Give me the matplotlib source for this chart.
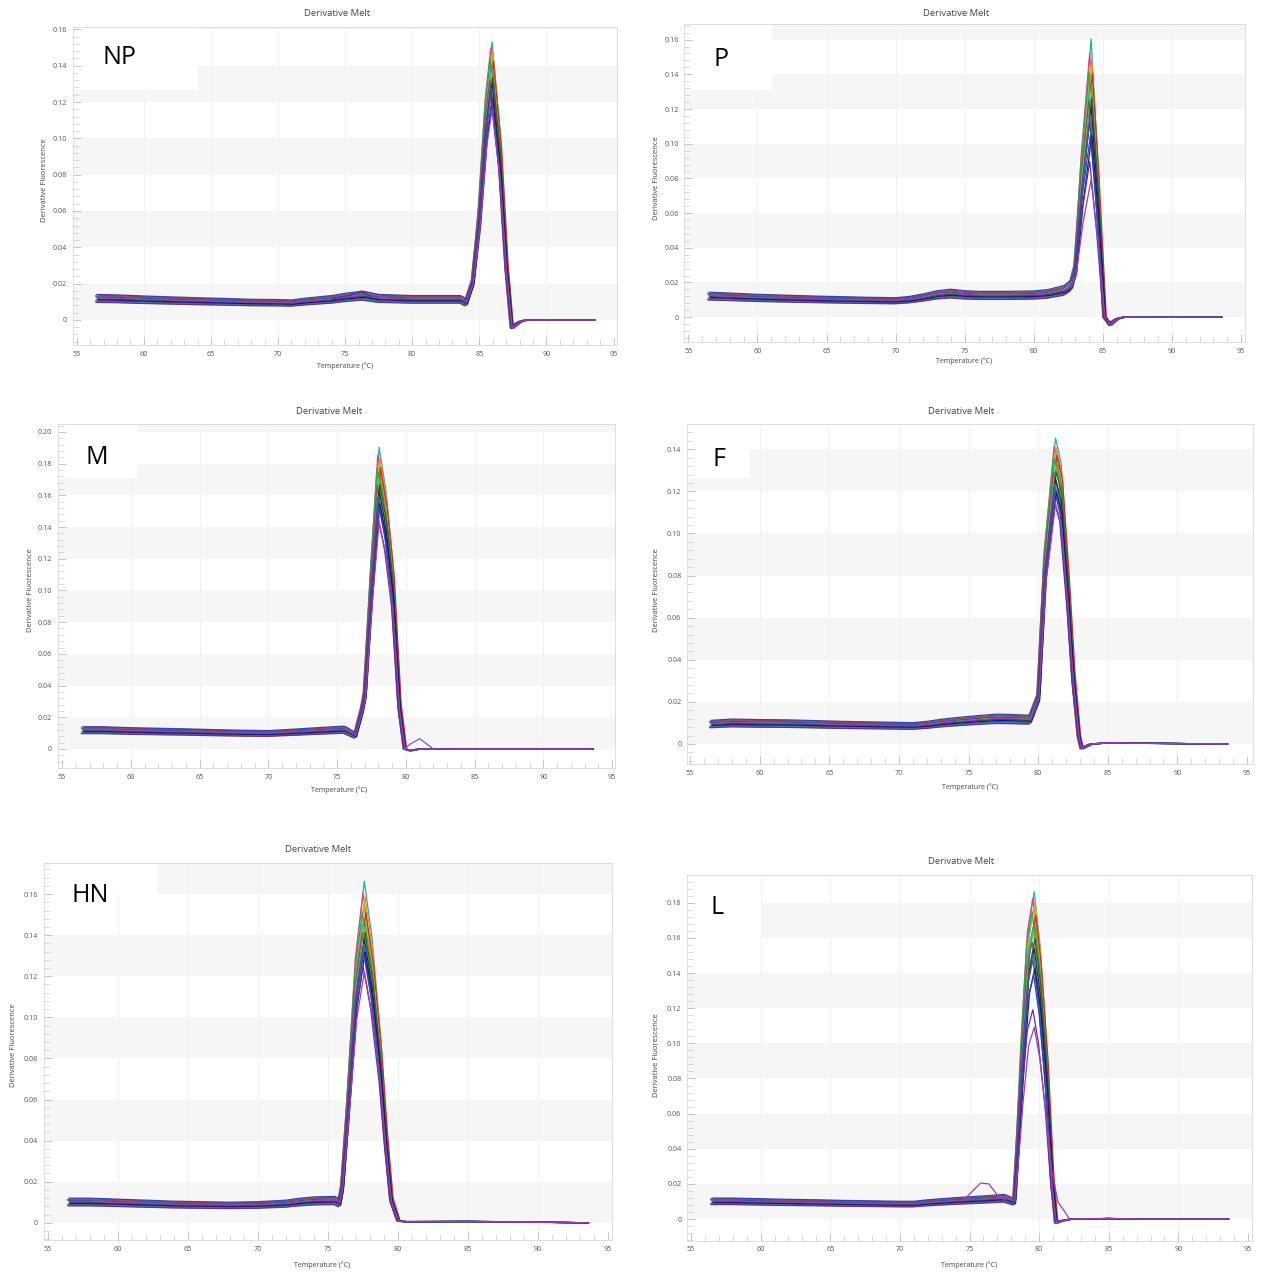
import numpy as np
import matplotlib
matplotlib.use("Agg")
import matplotlib.pyplot as plt
from matplotlib.patches import Rectangle
from matplotlib.ticker import MultipleLocator, FuncFormatter

W, H = 1264, 1274

# ---- NP ----
temp_NP = [56.5, 58, 60, 62, 64, 66, 68, 70, 71, 72, 74, 75, 76.3, 77.5, 80, 83.6,
           84.0, 84.5, 85.0, 85.5, 85.9, 86.5, 87.0, 87.4, 88.0, 88.5, 93.5]
bg_NP = [0.0115, 0.0113, 0.0108, 0.0104, 0.0100, 0.0097, 0.0093, 0.0092, 0.0090, 0.0098,
         0.0110, 0.0120, 0.0130, 0.0115, 0.0110, 0.0110,
         0.0092, 0.009, 0.007, 0.005, 0.003, 0.001, 0.0, -0.004, -0.001, 0.0, 0.0]
shape_NP = [0] * 16 + [0, 0.09, 0.38, 0.80, 1.0, 0.68, 0.22, 0, 0, 0, 0]
peaks_NP = [0.150, 0.147, 0.145, 0.143, 0.141, 0.139, 0.137, 0.135, 0.133,
            0.131, 0.129, 0.127, 0.125, 0.122, 0.119, 0.116, 0.126, 0.113]

# ---- P ----
temp_P = [56.5, 58, 60, 62, 64, 66, 68, 70, 71, 72, 73, 74, 75, 76, 78, 80, 81,
          82.2, 82.7, 83.0, 83.5, 84.1, 84.6, 85.1, 85.5, 86.0, 86.5, 93.5]
bg_P = [0.0118, 0.0114, 0.0108, 0.0104, 0.0100, 0.0097, 0.0094, 0.0092, 0.0098, 0.0110,
        0.0125, 0.0132, 0.0125, 0.0122, 0.0122, 0.0124, 0.0130,
        0.0150, 0.016, 0.016, 0.012, 0.008, 0.004, 0.0, -0.004, -0.001, 0.0, 0.0]
shape_P = [0] * 17 + [0, 0.02, 0.10, 0.58, 1.0, 0.55, 0.0, 0, 0, 0, 0]
peaks_P = [0.152, 0.145, 0.140, 0.137, 0.134, 0.131, 0.128, 0.125, 0.122,
           0.119, 0.116, 0.113, 0.110, 0.104, 0.097, 0.095, 0.083, 0.071]

# ---- M ----
temp_M = [56.5, 58, 60, 62, 64, 66, 68, 70, 72, 74, 75.5, 76.3, 76.8, 77.0, 77.5,
          78.0, 78.5, 79.0, 79.5, 79.9, 80.3, 81, 82, 93.5]
bg_M = [0.0115, 0.0115, 0.0110, 0.0107, 0.0104, 0.0100, 0.0097, 0.0095, 0.0103, 0.0112,
        0.0118, 0.0082, 0.012, 0.012, 0.010, 0.008, 0.006, 0.004, 0.002, 0.0, -0.001,
        0.0, 0.0, 0.0]
shape_M = [0] * 11 + [0, 0.08, 0.14, 0.60, 1.0, 0.86, 0.62, 0.16, 0.0, 0, 0, 0, 0]
peaks_M = [0.182, 0.178, 0.175, 0.172, 0.170, 0.168, 0.166, 0.164, 0.162,
           0.160, 0.157, 0.155, 0.152, 0.150, 0.147, 0.145, 0.140, 0.135]

# ---- F ----
temp_F = [56.5, 58, 60, 62, 64, 66, 68, 70, 71, 72, 73, 74, 75, 76, 77, 78, 79.4,
          80.0, 80.5, 81.2, 81.6, 82.1, 82.5, 82.9, 83.1, 83.8, 85, 93.5]
bg_F = [0.0092, 0.0097, 0.0095, 0.0094, 0.0091, 0.0088, 0.0086, 0.0084, 0.0083, 0.0088,
        0.0096, 0.0102, 0.0107, 0.0112, 0.0116, 0.0115, 0.0112,
        0.012, 0.009, 0.006, 0.004, 0.002, 0.001, 0.0, -0.002, 0.0, 0.0005, 0.0]
shape_F = [0] * 16 + [0, 0.08, 0.62, 1.0, 0.93, 0.58, 0.25, 0.03, 0, 0, 0, 0]
peaks_F = [0.139, 0.136, 0.134, 0.132, 0.131, 0.130, 0.129, 0.128, 0.126,
           0.124, 0.122, 0.120, 0.118, 0.116, 0.114, 0.112, 0.110, 0.108]

# ---- HN ----
temp_HN = [56.5, 58, 60, 62, 64, 66, 68, 70, 72, 73, 74, 75.5, 75.8, 76.0, 76.4, 77.0,
           77.55, 78.1, 78.7, 79.1, 79.5, 80.0, 80.5, 81, 85, 93.5]
bg_HN = [0.0098, 0.0098, 0.0094, 0.0090, 0.0086, 0.0084, 0.0082, 0.0084, 0.0090, 0.0098,
         0.0103, 0.0105, 0.0092, 0.010, 0.010, 0.008, 0.006, 0.004, 0.003, 0.003, 0.003,
         0.001, 0.0005, 0.0005, 0.0006, 0.0]
shape_HN = [0] * 12 + [0, 0.05, 0.32, 0.78, 1.0, 0.84, 0.55, 0.28, 0.06, 0, 0, 0, 0, 0]
peaks_HN = [0.160, 0.155, 0.152, 0.149, 0.146, 0.144, 0.142, 0.140, 0.138,
            0.136, 0.134, 0.132, 0.130, 0.128, 0.126, 0.124, 0.120, 0.116]

# ---- L ----
temp_L = [56.5, 58, 60, 62, 64, 66, 68, 70, 71, 72, 74, 76, 77.5, 78.2, 78.5, 78.8,
          79.2, 79.6, 80.0, 80.5, 80.9, 81.2, 81.6, 82.3, 85, 87, 93.5]
bg_L = [0.0098, 0.0098, 0.0095, 0.0092, 0.0090, 0.0087, 0.0085, 0.0083, 0.0083, 0.0090,
        0.0100, 0.0108, 0.0115, 0.0095, 0.010, 0.009, 0.007, 0.005, 0.003, 0.002, 0.001,
        -0.002, -0.001, 0.0, 0.0003, 0.0, 0.0]
shape_L = [0] * 13 + [0, 0.25, 0.55, 0.88, 1.0, 0.85, 0.52, 0.15, 0, 0, 0, 0, 0, 0]
peaks_L = [0.181, 0.178, 0.175, 0.172, 0.170, 0.167, 0.164, 0.161, 0.158,
           0.155, 0.152, 0.149, 0.146, 0.142, 0.138, 0.133, 0.115, 0.104]

# per-trace baseline level and small temperature offset (shared by all panels)
levels = [1.05, 0.92, 1.12, 0.98, 0.86, 1.18, 1.0, 0.95, 1.08,
          0.9, 1.15, 1.02, 0.88, 1.1, 0.96, 1.22, 0.84, 1.04]
shifts = [0.05, -0.05, 0.1, 0.0, -0.1, 0.15, 0.05, -0.05, 0.0,
          0.1, -0.1, 0.05, 0.0, -0.05, 0.1, 0.0, -0.05, 0.05]

colors = ["#1fb59a", "#e0409a", "#e8902a", "#c9b21c", "#2fa84f", "#d62828",
          "#5a8f29", "#18a8c8", "#7ac943", "#0b6e3a", "#8c564b", "#2b2b2b",
          "#3a7bd5", "#4b4b9b", "#1a1a6e", "#2846b8", "#6a2c91", "#9b3fb5"]

# odd single curves
bump_NP_t = [74.0, 75.3, 76.2, 77.0]
bump_NP_v = [0.0115, 0.0135, 0.0158, 0.0125]
tail_M_t = [79.9, 80.3, 81.0, 82.0]
tail_M_v = [0.0, 0.003, 0.0065, 0.0]
bump_L_t = [74.6, 75.8, 76.4, 77.1, 77.6]
bump_L_v = [0.011, 0.0205, 0.020, 0.0125, 0.011]
tail_L_t = [80.5, 80.9, 81.35, 82.2]
tail_L_v = [0.06, 0.028, 0.0098, 0.0]

panels = [
    # axes px box (l, t, r, b), label box px, label / title / xlabel / ylabel centres in px
    dict(name="NP", t=temp_NP, bg=bg_NP, sh=shape_NP, pk=peaks_NP, ytop=0.16,
         box=(72.7, 27, 617, 345), xlim=(54.70, 95.26), ylim=(-0.0138, 0.1613),
         lbox=(72.7, 27, 198, 90), lpos=(119, 58), tpos=(337, 14), xpos=(345, 366), ypos=(45, 180),
         extra=[(bump_NP_t, bump_NP_v, "#3b3bb0")]),
    dict(name="P", t=temp_P, bg=bg_P, sh=shape_P, pk=peaks_P, ytop=0.16,
         box=(684.4, 24, 1245, 342), xlim=(54.71, 95.29), ylim=(-0.0143, 0.169),
         lbox=(684.4, 24, 772, 90), lpos=(721, 60), tpos=(956, 13), xpos=(964, 361), ypos=(656, 178),
         extra=[]),
    dict(name="M", t=temp_M, bg=bg_M, sh=shape_M, pk=peaks_M, ytop=0.20,
         box=(57.5, 424, 615, 768), xlim=(54.67, 95.2), ylim=(-0.012, 0.205),
         lbox=(57.5, 424, 137, 478), lpos=(97, 457), tpos=(329, 411), xpos=(339, 790), ypos=(30, 590),
         extra=[(tail_M_t, tail_M_v, "#6a5acd")]),
    dict(name="F", t=temp_F, bg=bg_F, sh=shape_F, pk=peaks_F, ytop=0.14,
         box=(687, 424, 1253, 764), xlim=(54.78, 95.43), ylim=(-0.0095, 0.152),
         lbox=(687, 424, 750, 478), lpos=(719, 460), tpos=(961, 412), xpos=(970, 787), ypos=(657, 590),
         extra=[]),
    dict(name="HN", t=temp_HN, bg=bg_HN, sh=shape_HN, pk=peaks_HN, ytop=0.16,
         box=(43.6, 863.3, 611.6, 1240), xlim=(54.69, 95.26), ylim=(-0.0084, 0.175),
         lbox=(43.6, 863.3, 156.6, 894), lpos=(90, 896), tpos=(318, 850), xpos=(322, 1265), ypos=(14, 1045),
         extra=[]),
    dict(name="L", t=temp_L, bg=bg_L, sh=shape_L, pk=peaks_L, ytop=0.18,
         box=(687, 875, 1252, 1240.7), xlim=(54.71, 95.29), ylim=(-0.0123, 0.1958),
         lbox=(687, 875, 761, 938), lpos=(717, 907), tpos=(961, 862), xpos=(969, 1265), ypos=(657, 1055),
         extra=[(bump_L_t, bump_L_v, "#9b3fb5"), (tail_L_t, tail_L_v, "#9b3fb5")]),
]

plt.rcParams["font.family"] = ["Open Sans", "DejaVu Sans"]
fig = plt.figure(figsize=(W / 100, H / 100), dpi=100)
fig.patch.set_facecolor("white")


def fx(x):
    return x / W


def fy(y):
    return 1 - y / H


tickfmt = FuncFormatter(lambda v, p: "0" if abs(v) < 1e-9 else f"{v:.2f}")

for p in panels:
    l, t, r, b = p["box"]
    ax = fig.add_axes([fx(l), fy(b), (r - l) / W, (b - t) / H])
    ax.set_xlim(*p["xlim"])
    ax.set_ylim(*p["ylim"])

    # alternating grey bands
    for k in range(0, 6):
        lo = 0.04 * k
        ax.axhspan(lo, lo + 0.02, color="#f6f6f6", lw=0, zorder=0)
    for xv in range(60, 95, 5):
        ax.axvline(xv, color="#f1f1f1", lw=0.7, zorder=0.5)

    # white box behind the gene label
    bl, bt, br, bb = p["lbox"]
    ax.add_patch(Rectangle((fx(bl), fy(bb)), (br - bl) / W, (bb - bt) / H,
                           transform=fig.transFigure, facecolor="white",
                           edgecolor="none", zorder=1))

    temp = np.array(p["t"])
    bg = np.array(p["bg"])
    sh = np.array(p["sh"])
    for i, pk in enumerate(p["pk"]):
        y = bg * levels[i] + pk * sh
        ax.plot(temp + shifts[i], y, color=colors[i], lw=0.9, zorder=2 + i * 0.01)
    for et, ev, ec in p["extra"]:
        ax.plot(et, ev, color=ec, lw=0.9, zorder=2.5)

    ax.set_xticks(range(55, 96, 5))
    ax.set_yticks(np.arange(0, p["ytop"] + 1e-9, 0.02))
    ax.yaxis.set_major_formatter(tickfmt)
    ax.xaxis.set_minor_locator(MultipleLocator(1))
    ax.yaxis.set_minor_locator(MultipleLocator(0.004))
    ax.tick_params(axis="both", which="major", labelsize=5.2, labelcolor="#555555",
                   colors="#bbbbbb", length=6, width=0.6, direction="in", pad=4)
    ax.tick_params(axis="both", which="minor", colors="#cccccc", length=4,
                   width=0.5, direction="in")
    ax.tick_params(axis="x", which="major", labelcolor="#555555")
    for s in ax.spines.values():
        s.set_color("#dddddd")
        s.set_linewidth(0.7)

    fig.text(fx(p["tpos"][0]), fy(p["tpos"][1]), "Derivative Melt", ha="center",
             va="center", fontsize=6.8, color="#444444")
    fig.text(fx(p["xpos"][0]), fy(p["xpos"][1]), "Temperature (°C)", ha="center",
             va="center", fontsize=5, color="#444444")
    fig.text(fx(p["ypos"][0]), fy(p["ypos"][1]), "Derivative Fluorescence", ha="center",
             va="center", rotation=90, fontsize=5.5, color="#444444")
    fig.text(fx(p["lpos"][0]), fy(p["lpos"][1]), p["name"], ha="center", va="center",
             fontsize=18, color="black")

fig.savefig("out.png", dpi=100, facecolor="white")
